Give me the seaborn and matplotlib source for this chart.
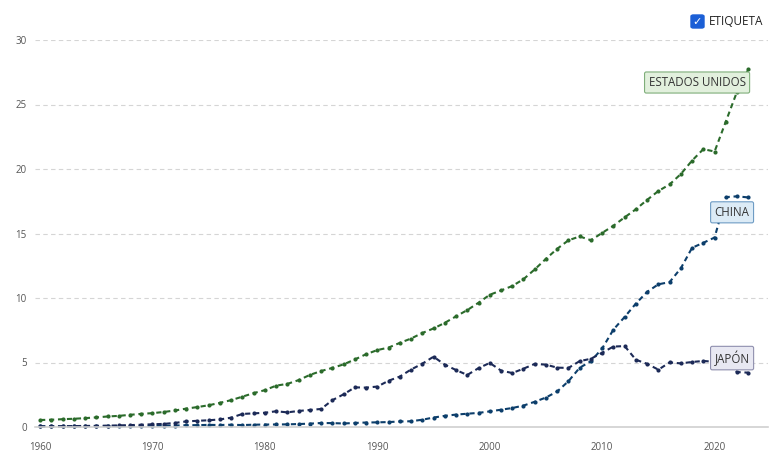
import numpy as np
import pandas as pd
import seaborn as sns
import matplotlib.pyplot as plt
from matplotlib.patches import FancyBboxPatch

# GDP (current US$, trillions)
years = list(range(1960, 2024))

usa = [0.543, 0.563, 0.605, 0.638, 0.686, 0.744, 0.815, 0.862, 0.943, 1.019,
       1.073, 1.165, 1.280, 1.425, 1.545, 1.685, 1.873, 2.082, 2.352, 2.627,
       2.857, 3.207, 3.343, 3.634, 4.037, 4.339, 4.580, 4.855, 5.236, 5.642,
       5.963, 6.158, 6.520, 6.858, 7.287, 7.640, 8.073, 8.578, 9.063, 9.631,
       10.251, 10.582, 10.929, 11.457, 12.217, 13.039, 13.816, 14.474, 14.770, 14.478,
       15.049, 15.600, 16.254, 16.880, 17.608, 18.295, 18.805, 19.612, 20.657, 21.540,
       21.354, 23.681, 26.007, 27.721]

china = [0.060, 0.050, 0.047, 0.051, 0.060, 0.070, 0.076, 0.072, 0.070, 0.079,
         0.093, 0.100, 0.114, 0.139, 0.144, 0.164, 0.154, 0.175, 0.150, 0.178,
         0.191, 0.196, 0.205, 0.230, 0.260, 0.309, 0.301, 0.273, 0.313, 0.348,
         0.361, 0.383, 0.427, 0.445, 0.564, 0.734, 0.864, 0.962, 1.029, 1.094,
         1.211, 1.339, 1.471, 1.660, 1.955, 2.286, 2.752, 3.550, 4.594, 5.102,
         6.087, 7.552, 8.532, 9.570, 10.476, 11.062, 11.233, 12.310, 13.895, 14.280,
         14.688, 17.820, 17.882, 17.795]

japan = [0.044, 0.054, 0.061, 0.070, 0.082, 0.091, 0.106, 0.124, 0.147, 0.172,
         0.213, 0.240, 0.318, 0.432, 0.480, 0.522, 0.586, 0.722, 1.013, 1.056,
         1.105, 1.219, 1.134, 1.243, 1.319, 1.399, 2.079, 2.533, 3.072, 3.054,
         3.133, 3.585, 3.909, 4.455, 4.907, 5.449, 4.834, 4.415, 4.033, 4.563,
         4.968, 4.375, 4.183, 4.520, 4.893, 4.831, 4.601, 4.579, 5.106, 5.289,
         5.759, 6.234, 6.273, 5.212, 4.897, 4.445, 5.004, 4.931, 5.041, 5.118,
         5.056, 5.035, 4.257, 4.213]

countries = ["ESTADOS UNIDOS", "CHINA", "JAPÓN"]
colors = ["#2b6b2b", "#0c3e6b", "#1c2a57"]
box_faces = ["#e2f0dd", "#dcebf6", "#e8e8f2"]
box_edges = ["#7fae7a", "#6e9cc4", "#8f8fae"]
label_offsets = [(-40, 9), (-5, -16), (-5, 14)]

df = pd.DataFrame({"year": years * 3,
                   "gdp": usa + china + japan,
                   "country": sum([[c] * len(years) for c in countries], [])})

sns.set_style("white")
plt.rcParams['font.family'] = ['Open Sans', 'DejaVu Sans']

fig = plt.figure(figsize=(7.73, 4.70), dpi=100)
ax = fig.add_axes([35 / 773, 43 / 470, 733 / 773, 387 / 470])

sns.lineplot(data=df, x="year", y="gdp", hue="country", palette=dict(zip(countries, colors)),
             marker="o", markersize=3, markeredgewidth=0, linewidth=1.5,
             dashes=False, legend=False, ax=ax, clip_on=False)
for line in ax.lines:
    line.set_linestyle((0, (2.5, 1.8)))

ax.set_xlim(1959.55, 2024.75)
ax.set_ylim(0, 30)
ax.set_yticks(range(0, 31, 5))
ax.set_xticks(range(1960, 2021, 10))
ax.set_xlabel("")
ax.set_ylabel("")
ax.grid(axis="y", color="#d5d5d5", linestyle=(0, (4, 3)), linewidth=0.8)
ax.set_axisbelow(True)
for s in ["top", "right", "left"]:
    ax.spines[s].set_visible(False)
ax.spines["bottom"].set_color("#d0d0d0")
ax.spines["bottom"].set_linewidth(1.2)
ax.tick_params(axis="x", length=4, color="#c8c8c8", labelsize=7, labelcolor="#555555", pad=7)
ax.tick_params(axis="y", length=0, labelsize=7, labelcolor="#555555", pad=6)

# end labels
series = [usa, china, japan]
for name, vals, col, fc, ec, off in zip(countries, series, colors, box_faces, box_edges, label_offsets):
    ax.annotate(name, xy=(2022, vals[-2]), xytext=off, textcoords="offset pixels",
                ha="center", va="center", fontsize=8.3, color="#333333",
                bbox=dict(boxstyle="round,pad=0.35,rounding_size=0.15", fc=fc, ec=ec, lw=0.8))

# checkbox legend
fig.patches.append(FancyBboxPatch((691 / 773, (470 - 28) / 470), 13 / 773, 13 / 470,
                                  boxstyle="round,pad=0,rounding_size=0.003",
                                  transform=fig.transFigure, fc="#1b5fd6", ec="#1b5fd6"))
fig.text(697.5 / 773, (470 - 21.5) / 470, "✓", color="white", fontsize=8, fontweight="bold",
         ha="center", va="center", family=["DejaVu Sans"])
fig.text(709 / 773, (470 - 21.5) / 470, "ETIQUETA", color="#222222", fontsize=8.5,
         ha="left", va="center")

fig.savefig("out.png", dpi=100)
